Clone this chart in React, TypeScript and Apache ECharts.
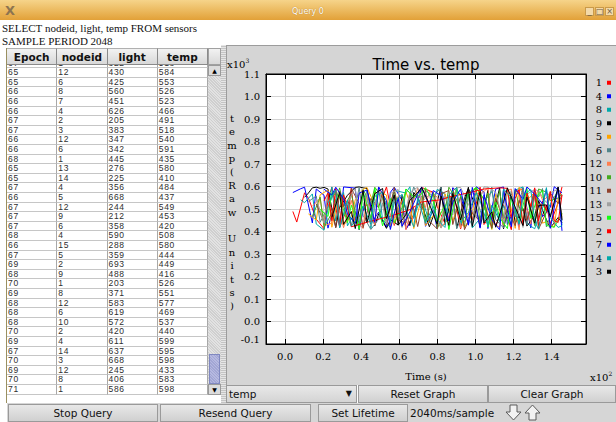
import React, { useEffect, useRef } from "react";
import * as echarts from "echarts";

// ---- query result table (newest rows at the bottom) ----
const tableEpochs = [67, 65, 65, 66, 66, 66, 67, 67, 66, 66, 68, 65, 65, 67, 66, 67, 67, 67, 68, 66, 67, 69, 68, 70, 69, 68, 68, 68, 70, 69, 67, 70, 69, 70, 71];
const tableNodeIds = [1, 12, 6, 8, 7, 4, 2, 3, 12, 6, 1, 13, 14, 4, 5, 12, 9, 6, 4, 15, 5, 2, 9, 1, 8, 12, 6, 10, 2, 4, 14, 3, 12, 8, 1];
const tableLights = [322, 430, 425, 560, 451, 626, 205, 383, 347, 342, 445, 276, 225, 356, 668, 244, 212, 358, 590, 288, 359, 693, 488, 203, 371, 583, 619, 572, 420, 611, 637, 668, 245, 406, 586];
const tableTemps = [518, 584, 553, 526, 523, 466, 491, 518, 540, 591, 435, 580, 410, 484, 437, 549, 453, 420, 508, 580, 444, 449, 416, 526, 551, 577, 469, 537, 440, 599, 595, 598, 433, 583, 598];
const tableColumns = ["Epoch", "nodeid", "light", "temp"];

// ---- plot series: one per node, in the order the nodes first reported ----
const samplePeriodSec = 2.048;
const nodeIds = [1, 4, 8, 9, 5, 6, 12, 10, 11, 13, 15, 2, 7, 14, 3];
const nodeColors = ["#ff0000", "#0000ff", "#00aaaa", "#000000", "#ffa500", "#53868b", "#ff7f50", "#45ab1f", "#90422d", "#a0a0a0", "#14ff14", "#ff0000", "#0000ff", "#00aaaa", "#000000"];
const startEpochs = [2, 2, 4, 5, 6, 6, 7, 7, 8, 8, 9, 10, 10, 11, 12];

// temp readings, one per epoch from the node's first epoch (null = packet lost)
const temps1 = [489, 442, null, 572, 548, null, 455, null, 412, 538, 597, null, 418, null, 506, 592, 437, null, null, 521, 446, 579, null, 552, 598, null, 427, null, 541, 409, null, 476, 533, 596, null, null, 574, 512, null, 436, 467, 593, null, 411, null, 582, 449, null, 597, 431, null, 478, 425, null, 519, null, 408, 576, null, 591, 453, null, 581, 426, null, 518, 435, null, 526, 598];
const temps4 = [573, null, 590, 597, null, 438, 589, null, 561, 415, null, 544, 421, 598, null, null, 593, 408, null, 577, 434, null, 486, null, 419, 574, 597, null, 538, 411, null, 463, null, 598, 423, null, 496, 412, 588, null, 447, 595, null, 562, null, 428, 517, 599, null, 576, 413, null, 589, null, 598, 431, null, 507, 420, 594, null, 416, 583, null, 466, 484, 508, 599, null, 571];
const temps8 = [541, 528, null, 567, 433, null, 406, null, 598, 447, null, 574, 425, null, 488, 431, null, 579, 414, null, 597, 452, null, 418, 583, null, null, 571, 599, 462, null, 558, null, 439, 524, 587, null, 566, 481, null, 595, 423, null, 572, 416, null, 458, 531, null, 578, null, 441, 515, null, 429, 584, null, 598, 436, null, 412, null, 526, 491, null, 551, 583, 427];
const temps9 = [552, 571, 594, 597, 592, 596, 589, null, 418, 506, null, 561, null, 596, 598, 594, 591, null, 425, 479, null, 414, 452, null, 429, 561, null, 426, 574, null, 519, null, 421, 468, null, 597, 431, null, 576, 415, null, 548, 592, null, 506, 419, null, 583, 446, null, 594, 412, null, 565, 436, null, 502, 424, null, 471, 537, null, 453, 416, null, 462, 439];
const temps5 = [478, null, 451, 563, null, 584, 419, null, 572, 428, null, 467, 541, null, 588, 596, null, 517, 579, null, 562, 424, null, 498, null, 575, 529, 413, null, 549, 426, null, 471, null, 417, 568, null, 445, 503, null, 418, null, 476, 595, null, 542, null, 409, 566, null, 427, 583, null, 414, 597, null, 538, null, 574, 512, 437, 444, null, 419, 548, 472];
const temps6 = [533, null, 558, 441, null, 509, null, 589, 434, null, 517, 421, null, 595, 472, null, 409, null, 455, 527, null, 436, 564, null, 419, null, 543, 598, null, 511, 582, null, 557, null, 596, 468, null, 579, 412, null, 494, null, 427, 551, null, 439, null, 597, 453, null, 416, null, 582, 465, null, 593, 431, null, 574, 553, 591, 420, 469, null, 582, 448];
const temps12 = [512, null, 549, 426, null, 437, 561, null, 417, null, 538, 454, null, 413, 566, null, 429, 585, null, 523, null, 431, 557, null, 411, null, 539, 592, null, 506, 579, null, 553, 418, null, 461, null, 598, 415, null, 473, 582, null, 561, null, 595, 438, null, 419, 574, null, 589, null, 407, 566, null, 433, 558, 584, 540, 549, 577, 433, null, 468];
const temps10 = [466, null, 553, 419, null, 482, null, 594, 511, null, 567, null, 408, 586, null, 522, 597, null, 548, 474, null, 579, null, 461, 588, null, 556, null, 591, 444, null, 573, 412, null, 489, 597, null, 541, null, 421, 559, null, 594, 438, null, 571, 413, null, 582, 467, null, 429, 586, null, 441, 572, null, 426, 589, null, 575, 537, null, 549, 566];
const temps11 = [523, null, 441, 566, null, 418, 579, null, 452, 591, null, 524, 417, null, 547, null, 506, 572, 429, null, 596, 451, null, 437, 574, null, 422, null, 587, 446, null, 412, 568, null, 582, 431, null, 556, 408, null, 484, null, 443, 527, null, 416, 548, null, 457, 501, null, 426, 538, null, 449, null, 563, 411, null, 486, 571, null, 524, 563];
const temps13 = [547, null, 438, 576, null, 566, 421, null, 529, null, 591, 447, null, 573, 426, null, 598, null, 436, 569, null, 587, 419, null, 574, null, 597, 531, null, 563, 489, null, 415, 558, null, 473, 594, 596, null, 521, null, 463, 547, 598, 597, null, 575, null, 441, 583, null, 539, null, 418, 566, null, 587, 580, null, 528, 571, null, 589, 462];
const temps15 = [498, null, 467, 572, null, 553, null, 439, 517, null, 412, 578, null, 459, 593, null, 425, null, 547, 438, null, 506, 589, null, 552, null, 567, 595, null, 533, 446, null, 519, 409, null, 588, null, 527, 572, null, 596, null, 542, 419, null, 531, 462, null, 413, 549, null, 437, null, 592, 458, null, 568, 580, 427, null, 419, null, 481];
const temps2 = [536, 572, 448, 591, 427, 563, 508, 421, null, null, null, null, 446, null, null, null, null, 468, null, null, null, null, 497, null, null, 531, null, null, null, null, 541, null, 553, null, null, null, null, 572, null, null, null, 589, null, null, null, 594, null, 592, 463, 548, 586, 429, 571, 512, 594, 447, 536, 491, 578, 449, 440, 562];
const temps7 = [588, null, 562, 597, null, 545, 478, null, 436, 571, null, 584, null, 441, 598, null, 537, 409, null, 551, 424, null, 487, null, 566, 597, null, 518, 582, null, 559, null, 447, 531, null, 588, null, 429, 596, null, 415, 563, null, 452, null, 408, 584, null, 421, 591, null, 543, 598, null, 566, null, 523, 589, 414, null, 597, 403];
const temps14 = [527, null, 583, 416, null, 539, 424, null, 468, 513, null, 432, 556, null, 574, null, 443, 528, null, 566, 498, null, 421, 549, null, 437, null, 512, 453, null, 418, 563, null, 596, 441, null, 484, null, 572, 536, null, 426, 517, null, 448, 589, null, 552, null, 433, 562, null, 586, 445, 410, null, 595, 462, null, 418, 426];
const temps3 = [463, null, 574, 432, null, 489, 413, null, 583, 441, null, 568, null, 591, 457, null, 562, 428, null, 476, 539, null, 572, 596, null, 521, null, 433, 558, null, 427, 569, null, 451, null, 597, 422, null, 578, 438, null, 487, 419, null, 532, 594, null, 508, null, 426, 553, null, 437, 516, null, 518, 465, null, 598, 452];
const nodeTemps = [temps1, temps4, temps8, temps9, temps5, temps6, temps12, temps10, temps11, temps13, temps15, temps2, temps7, temps14, temps3];

// y-axis caption, one glyph per line
const yAxisCaption = "temp(Raw Units)";

const uiFont = '"DejaVu Sans", sans-serif';
const plotFont = '"DejaVu Serif", serif';
const cellFont = '"Liberation Sans", Arial, sans-serif';

function Button(props: { left: number; top: number; width: number; height: number; label: string }) {
  const { left, top, width, height, label } = props;
  return (
    <div
      style={{
        position: "absolute",
        left,
        top,
        width,
        height,
        boxSizing: "border-box",
        border: "1px solid #9a9a9a",
        background: "linear-gradient(#e8e8e8, #d0d0d0)",
        font: `10.5px ${uiFont}`,
        color: "#111",
        display: "flex",
        alignItems: "center",
        justifyContent: "center",
        whiteSpace: "nowrap",
      }}
    >
      {label}
    </div>
  );
}

function ArrowIcon(props: { left: number; up: boolean }) {
  const pts = props.up ? "8.5,1 16,9 12,9 12,16 5,16 5,9 1,9" : "5,1 12,1 12,8 16,8 8.5,16 1,8 5,8";
  return (
    <svg width={18} height={18} style={{ position: "absolute", left: props.left, top: 404 }}>
      <polygon points={pts} fill="#f2f2f2" stroke="#5a5a5a" strokeWidth={1} />
    </svg>
  );
}

export default function App() {
  const chartRef = useRef<HTMLDivElement>(null);

  useEffect(() => {
    if (!chartRef.current) return;
    const chart = echarts.init(chartRef.current, null, { renderer: "svg" });

    const series = nodeIds.map((id, k) => {
      const data: [number, number][] = [];
      nodeTemps[k].forEach((t, i) => {
        if (t !== null) data.push([(startEpochs[k] + i) * samplePeriodSec, t as number]);
      });
      return {
        type: "line",
        name: String(id),
        data,
        symbol: "none",
        showSymbol: false,
        silent: true,
        lineStyle: { width: 1, color: nodeColors[k] },
        itemStyle: { color: nodeColors[k] },
        emphasis: { disabled: true },
      };
    });

    const xLabel = (v: number) => (v >= 0 && v <= 140 && Math.abs(v % 20) < 1e-6 ? (v / 100).toFixed(1) : "");
    const axisBase = {
      type: "value",
      axisLine: { show: true, onZero: false, lineStyle: { color: "#000", width: 1 } },
      axisTick: { show: true, inside: true, length: 5, lineStyle: { color: "#000", width: 1 } },
    };

    chart.setOption({
      animation: false,
      grid: {
        left: 266,
        top: 74,
        width: 320,
        height: 270,
        show: true,
        backgroundColor: "#ffffff",
        borderColor: "#000",
        borderWidth: 1,
      },
      legend: {
        orient: "vertical",
        right: 5,
        top: 76,
        align: "right",
        icon: "rect",
        itemWidth: 4,
        itemHeight: 4,
        itemGap: 0,
        padding: 0,
        selectedMode: false,
        data: nodeIds.map(String),
        textStyle: { fontFamily: plotFont, fontSize: 10, color: "#000", lineHeight: 13.5 },
      },
      xAxis: [
        {
          ...axisBase,
          position: "bottom",
          min: -10,
          max: 158,
          minInterval: 20,
          maxInterval: 20,
          axisLabel: { margin: 7, color: "#000", fontFamily: plotFont, fontSize: 10, formatter: xLabel },
          splitLine: { show: true, lineStyle: { color: "#d3d3d3", width: 1 } },
        },
        {
          ...axisBase,
          position: "top",
          min: -10,
          max: 158,
          minInterval: 20,
          maxInterval: 20,
          axisLabel: { show: false },
          splitLine: { show: false },
        },
      ],
      yAxis: [
        {
          ...axisBase,
          position: "left",
          min: -100,
          max: 1100,
          interval: 100,
          axisLabel: {
            margin: 6,
            color: "#000",
            fontFamily: plotFont,
            fontSize: 10,
            verticalAlignMinLabel: "bottom",
            formatter: (v: number) => (v / 1000).toFixed(1),
          },
          splitLine: { show: true, lineStyle: { color: "#d3d3d3", width: 1 } },
        },
        {
          ...axisBase,
          position: "right",
          min: -100,
          max: 1100,
          interval: 100,
          axisLabel: { show: false },
          splitLine: { show: false },
        },
      ],
      series,
      graphic: [
        {
          type: "text",
          x: 426,
          y: 65,
          style: { text: "Time vs. temp", fontFamily: uiFont, fontSize: 15, fill: "#000", align: "center", verticalAlign: "middle" },
        },
        {
          type: "text",
          x: 232,
          y: 212,
          style: {
            text: yAxisCaption.split("").join("\n"),
            fontFamily: plotFont,
            fontSize: 10,
            lineHeight: 13.4,
            fill: "#000",
            align: "center",
            verticalAlign: "middle",
          },
        },
        { type: "text", x: 227, y: 64, style: { text: "x10", fontFamily: plotFont, fontSize: 10, fill: "#000", align: "left", verticalAlign: "middle" } },
        { type: "text", x: 245.5, y: 60, style: { text: "3", fontFamily: plotFont, fontSize: 6, fill: "#000", align: "left", verticalAlign: "middle" } },
        { type: "text", x: 426, y: 376, style: { text: "Time (s)", fontFamily: plotFont, fontSize: 10, fill: "#000", align: "center", verticalAlign: "middle" } },
        { type: "text", x: 590, y: 377, style: { text: "x10", fontFamily: plotFont, fontSize: 10, fill: "#000", align: "left", verticalAlign: "middle" } },
        { type: "text", x: 608.5, y: 373, style: { text: "2", fontFamily: plotFont, fontSize: 6, fill: "#000", align: "left", verticalAlign: "middle" } },
      ],
    });

    return () => chart.dispose();
  }, []);

  const colW = 50.25;
  const rowPitch = 9.6;
  const headerTop = 48;
  const headerH = 17;
  const viewTop = headerTop + headerH;
  const firstRowTop = 68.2; // top of the first complete row
  const tableBottom = firstRowTop + (tableEpochs.length - 1) * rowPitch;

  return (
    <div
      style={{
        position: "fixed",
        left: 0,
        top: 0,
        width: 616,
        height: 422,
        overflow: "hidden",
        background: "#ffffff",
        fontFamily: uiFont,
      }}
    >
      {/* window title bar */}
      <div
        style={{
          position: "absolute",
          left: 0,
          top: 0,
          width: 616,
          height: 20,
          background: "linear-gradient(#f6d48a, #e2a138)",
        }}
      >
        <div style={{ position: "absolute", left: 5, top: 0, font: `bold 13px ${uiFont}`, color: "#8d7450", lineHeight: "22px" }}>X</div>
        <div
          style={{
            position: "absolute",
            left: 0,
            width: 616,
            top: 0,
            textAlign: "center",
            font: `8px ${uiFont}`,
            lineHeight: "24px",
            color: "#fff",
            textShadow: "0 0 1px #a06a10",
          }}
        >
          Query 0
        </div>
        {["_", "□", "×"].map((g, i) => (
          <div
            key={g}
            style={{
              position: "absolute",
              left: 585 + i * 10,
              top: 7,
              width: 9,
              height: 9,
              boxSizing: "border-box",
              border: "1px solid #c99a4a",
              background: "#f3d9a8",
              font: `8px ${uiFont}`,
              lineHeight: "7px",
              textAlign: "center",
              color: "#6c5a40",
            }}
          >
            {g}
          </div>
        ))}
      </div>

      {/* query text */}
      <div style={{ position: "absolute", left: 2, top: 22, font: `11px "Liberation Serif", serif`, lineHeight: "12.5px", color: "#111" }}>
        SELECT nodeid, light, temp FROM sensors
        <br />
        SAMPLE PERIOD 2048
      </div>

      {/* table body */}
      <div style={{ position: "absolute", left: 6, top: headerTop, width: 1, height: 355, background: "#9a9060" }} />
      <div
        style={{
          position: "absolute",
          left: 7,
          top: viewTop,
          width: 201,
          height: tableBottom - viewTop,
          overflow: "hidden",
        }}
      >
        {tableEpochs.map((ep, i) => {
          const top = firstRowTop + (i - 1) * rowPitch - viewTop;
          const cells = [ep, tableNodeIds[i], tableLights[i], tableTemps[i]];
          return cells.map((c, j) => (
            <div
              key={`${i}-${j}`}
              style={{
                position: "absolute",
                left: j * colW,
                top,
                width: colW,
                height: rowPitch,
                boxSizing: "border-box",
                borderRight: "1px solid #a8a8a8",
                borderBottom: "1px solid #c6c6c6",
                paddingLeft: 1,
                font: `8.5px ${cellFont}`,
                letterSpacing: "0.7px",
                lineHeight: `${rowPitch}px`,
                color: "#2e2e2e",
                whiteSpace: "nowrap",
              }}
            >
              {c}
            </div>
          ));
        })}
      </div>

      {/* table header */}
      {tableColumns.map((h, j) => (
        <div
          key={h}
          style={{
            position: "absolute",
            left: 7 + j * colW,
            top: headerTop,
            width: colW,
            height: headerH,
            boxSizing: "border-box",
            borderRight: "1px solid #8a8a8a",
            borderBottom: "1px solid #8a8a8a",
            borderTop: "1px solid #b0b0b0",
            background: "linear-gradient(#f2f2f2, #d8d8d8)",
            font: `bold 10.5px ${uiFont}`,
            color: "#111",
            display: "flex",
            alignItems: "center",
            justifyContent: "center",
            zIndex: 2,
          }}
        >
          {h}
        </div>
      ))}

      {/* vertical scrollbar */}
      <div
        style={{
          position: "absolute",
          left: 208,
          top: headerTop,
          width: 13,
          height: headerH,
          boxSizing: "border-box",
          border: "1px solid #a0a0a0",
          background: "linear-gradient(#f2f2f2, #d8d8d8)",
        }}
      />
      <div
        style={{
          position: "absolute",
          left: 208,
          top: viewTop,
          width: 13,
          height: tableBottom - viewTop,
          background: "repeating-linear-gradient(45deg, #cfcfcf 0 1px, #e2e2e2 1px 2px)",
        }}
      />
      <div
        style={{
          position: "absolute",
          left: 208,
          top: viewTop,
          width: 13,
          height: 11,
          boxSizing: "border-box",
          border: "1px solid #9a9a9a",
          background: "#dcdcdc",
          font: `6px ${uiFont}`,
          lineHeight: "9px",
          textAlign: "center",
          color: "#000",
        }}
      >
        ▲
      </div>
      <div
        style={{
          position: "absolute",
          left: 209,
          top: tableBottom - 41,
          width: 11,
          height: 30,
          boxSizing: "border-box",
          border: "1px solid #8088c0",
          background: "repeating-linear-gradient(45deg, #a2a6d4 0 1px, #b6b9e0 1px 2px)",
        }}
      />
      <div
        style={{
          position: "absolute",
          left: 208,
          top: tableBottom - 11,
          width: 13,
          height: 11,
          boxSizing: "border-box",
          border: "1px solid #9a9a9a",
          background: "#dcdcdc",
          font: `6px ${uiFont}`,
          lineHeight: "9px",
          textAlign: "center",
          color: "#000",
        }}
      >
        ▼
      </div>

      {/* split-pane divider */}
      <div
        style={{
          position: "absolute",
          left: 221,
          top: 45,
          width: 5,
          height: 358,
          background: "repeating-linear-gradient(0deg, #c4c4c4 0 1px, #e6e6e6 1px 2px)",
        }}
      />

      {/* plot panel */}
      <div
        style={{
          position: "absolute",
          left: 226,
          top: 45,
          width: 390,
          height: 340,
          boxSizing: "border-box",
          borderTop: "1px solid #9c9c9c",
          borderLeft: "1px solid #9c9c9c",
          background: "#d5d5d5",
        }}
      />

      {/* graph controls */}
      <div
        style={{
          position: "absolute",
          left: 226,
          top: 385,
          width: 131,
          height: 18,
          boxSizing: "border-box",
          border: "1px solid #9a9a9a",
          background: "linear-gradient(#e8e8e8, #d4d4d4)",
          font: `10.5px ${uiFont}`,
          lineHeight: "16px",
          color: "#111",
        }}
      >
        <span style={{ position: "absolute", left: 2 }}>temp</span>
        <span style={{ position: "absolute", right: 4, font: `8px ${uiFont}`, lineHeight: "16px" }}>▼</span>
      </div>
      <Button left={358} top={385} width={130} height={18} label="Reset Graph" />
      <Button left={488} top={385} width={128} height={18} label="Clear Graph" />

      {/* query controls */}
      <div style={{ position: "absolute", left: 7, top: 403, width: 609, height: 19, background: "#d6d6d6" }} />
      <Button left={8} top={404} width={150} height={18} label="Stop Query" />
      <Button left={160} top={404} width={151} height={18} label="Resend Query" />
      <Button left={318} top={404} width={90} height={18} label="Set Lifetime" />
      <div style={{ position: "absolute", left: 410, top: 404, font: `10.5px ${uiFont}`, lineHeight: "18px", color: "#111" }}>2040ms/sample</div>
      <ArrowIcon left={505} up={false} />
      <ArrowIcon left={524} up={true} />

      {/* time-series plot */}
      <div ref={chartRef} style={{ position: "absolute", left: 0, top: 0, width: 616, height: 422 }} />
    </div>
  );
}
